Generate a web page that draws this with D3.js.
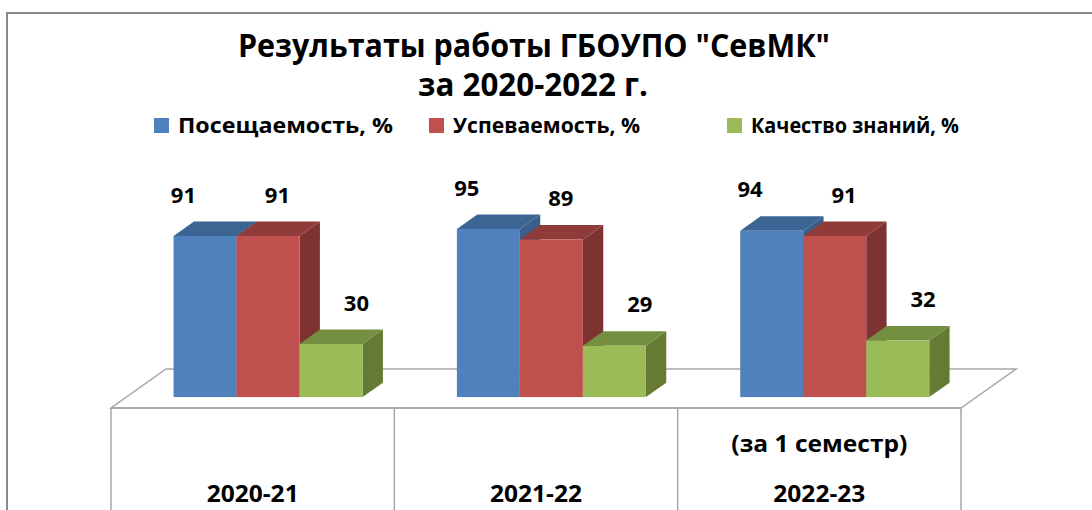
<!DOCTYPE html>
<html>
<head>
<meta charset="utf-8">
<script src="https://cdn.jsdelivr.net/npm/d3@7"></script>
<style>
  body { margin: 0; background: #fff; }
  svg { display: block; }
</style>
</head>
<body>
<div id="chart"></div>
<script>
// chart data
const categories = ["2020-21", "2021-22", "2022-23"];
const subLabels = ["", "", "(за 1 семестр)"];
const seriesNames = ["Посещаемость, %", "Успеваемость, %", "Качество знаний, %"];
const attendance = [91, 95, 94];
const progress = [91, 89, 91];
const quality = [30, 29, 32];

const seriesValues = [attendance, progress, quality];
const colors = [
  {front: "#4F81BD", top: "#3D6594", side: "#3A5F8B"},
  {front: "#C0504D", top: "#8F3B39", side: "#7D3331"},
  {front: "#9BBB59", top: "#748F40", side: "#657B33"}
];

const width = 1092, height = 510;
const svg = d3.select("#chart").append("svg")
  .attr("width", width)
  .attr("height", height);

// frame (runs off the right and bottom edge)
svg.append("rect")
  .attr("x", 7).attr("y", 13)
  .attr("width", 1200).attr("height", 600)
  .attr("fill", "#fff")
  .attr("stroke", "#8a8a8a")
  .attr("stroke-width", 2);

// title, narrowed a bit to look like the condensed original
const titleFont = "'Open Sans', sans-serif";
svg.append("text")
  .attr("x", 534).attr("y", 57)
  .attr("text-anchor", "middle")
  .attr("font-family", titleFont)
  .attr("font-weight", "bold")
  .attr("font-size", 32)
  .attr("textLength", 592)
  .attr("lengthAdjust", "spacingAndGlyphs")
  .text('Результаты работы ГБОУПО "СевМК"');
svg.append("text")
  .attr("x", 533).attr("y", 96)
  .attr("text-anchor", "middle")
  .attr("font-family", titleFont)
  .attr("font-weight", "bold")
  .attr("font-size", 32)
  .attr("textLength", 230)
  .attr("lengthAdjust", "spacingAndGlyphs")
  .text("за 2020-2022 г.");

// legend
const legendX = [154, 429, 727];
const legendW = [215, 187, 208];
const legend = svg.selectAll(".legend")
  .data(seriesNames)
  .enter().append("g")
  .attr("class", "legend")
  .attr("transform", (d, i) => "translate(" + legendX[i] + ",118)");
legend.append("rect")
  .attr("width", 15).attr("height", 15)
  .attr("fill", (d, i) => colors[i].front);
legend.append("text")
  .attr("x", 24).attr("y", 15)
  .attr("font-family", "'Open Sans', sans-serif")
  .attr("font-weight", "bold")
  .attr("font-size", 21)
  .attr("textLength", (d, i) => legendW[i])
  .attr("lengthAdjust", "spacingAndGlyphs")
  .text(d => d);

// scales
const x0 = d3.scaleBand().domain(categories).range([111, 961]);
const x1 = d3.scaleBand().domain(seriesNames).range([0, 189]);
const y = d3.scaleLinear().domain([0, 100]).range([408, 231]);

// oblique depth: full floor depth vector
const depthX = 55, depthY = -39;
const d0 = 0.28, d1 = 0.65;
const proj = (px, v, d) => [px + depthX * d, y(v) + depthY * d];

// floor
const fl = [proj(111, 0, 0), proj(961, 0, 0), proj(961, 0, 1), proj(111, 0, 1)];
svg.append("polygon")
  .attr("points", fl.map(p => p.join(",")).join(" "))
  .attr("fill", "#fff")
  .attr("stroke", "#a6a6a6")
  .attr("stroke-width", 1.5);

// category table under the floor
const table = svg.append("g").attr("stroke", "#a6a6a6").attr("stroke-width", 1.5);
table.append("line").attr("x1", 111).attr("x2", 961).attr("y1", y(0)).attr("y2", y(0));
const edges = categories.map(c => x0(c)).concat([x0.range()[1]]);
table.selectAll(".vline")
  .data(edges)
  .enter().append("line")
  .attr("x1", d => d).attr("x2", d => d)
  .attr("y1", y(0)).attr("y2", height + 5);

svg.selectAll(".cat")
  .data(categories)
  .enter().append("text")
  .attr("x", d => x0(d) + x0.bandwidth() / 2)
  .attr("y", 502)
  .attr("text-anchor", "middle")
  .attr("font-family", titleFont)
  .attr("font-weight", "bold")
  .attr("font-size", 23)
  .attr("textLength", 92)
  .attr("lengthAdjust", "spacingAndGlyphs")
  .text(d => d);
svg.selectAll(".sub")
  .data(subLabels)
  .enter().append("text")
  .attr("x", (d, i) => x0(categories[i]) + x0.bandwidth() / 2)
  .attr("y", 452)
  .attr("text-anchor", "middle")
  .attr("font-family", titleFont)
  .attr("font-weight", "bold")
  .attr("font-size", 23)
  .text(d => d)
  .filter(d => d !== "")
  .attr("textLength", 176)
  .attr("lengthAdjust", "spacingAndGlyphs");

// bars
const groupOffset = (x0.bandwidth() - x1.range()[1]) / 2;
const labelShift = [-42, -11, 5];
const pts = a => a.map(p => p.join(",")).join(" ");

categories.forEach((c, ci) => {
  seriesNames.forEach((s, si) => {
    const v = seriesValues[si][ci];
    const xl = x0(c) + groupOffset + x1(s);
    const xr = xl + x1.bandwidth();
    const g = svg.append("g");
    // side
    g.append("polygon")
      .attr("points", pts([proj(xr, 0, d0), proj(xr, 0, d1), proj(xr, v, d1), proj(xr, v, d0)]))
      .attr("fill", colors[si].side);
    // top
    g.append("polygon")
      .attr("points", pts([proj(xl, v, d0), proj(xr, v, d0), proj(xr, v, d1), proj(xl, v, d1)]))
      .attr("fill", colors[si].top);
    // front
    const fTop = proj(xl, v, d0), fBot = proj(xl, 0, d0);
    g.append("rect")
      .attr("x", fTop[0]).attr("y", fTop[1])
      .attr("width", x1.bandwidth())
      .attr("height", fBot[1] - fTop[1])
      .attr("fill", colors[si].front);
    // value label
    const back = proj((xl + xr) / 2, v, d1);
    svg.append("text")
      .attr("class", "label")
      .attr("x", back[0] + labelShift[si])
      .attr("y", back[1] - 19)
      .attr("text-anchor", "middle")
      .attr("font-family", "'Open Sans', sans-serif")
      .attr("font-weight", "bold")
      .attr("font-size", 22)
      .text(v);
  });
});
</script>
</body>
</html>
